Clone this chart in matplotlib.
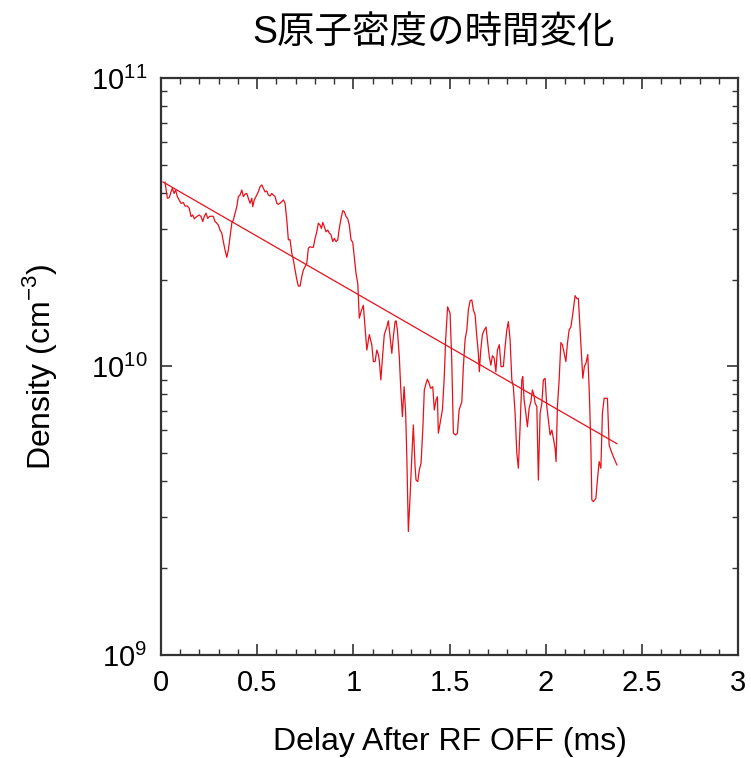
import numpy as np
import matplotlib
matplotlib.use("Agg")
import matplotlib.pyplot as plt
from matplotlib.ticker import LogLocator, MultipleLocator, NullFormatter

plt.rcParams['font.family'] = ['Liberation Sans', 'Noto Sans CJK JP', 'DejaVu Sans']
plt.rcParams['mathtext.fontset'] = 'custom'
plt.rcParams['mathtext.rm'] = 'Liberation Sans'

# measured S atom density after RF off (time in ms, density in 1e10 cm^-3)
time_ms = [
    0.021, 0.033, 0.043, 0.052, 0.059, 0.068, 0.076, 0.085, 0.094, 0.104,
    0.116, 0.125, 0.137, 0.147, 0.156, 0.165, 0.173, 0.186, 0.199, 0.208,
    0.217, 0.225, 0.234, 0.243, 0.251, 0.264, 0.272, 0.281, 0.290, 0.298,
    0.307, 0.316, 0.324, 0.333, 0.342, 0.350, 0.359, 0.368, 0.376, 0.385,
    0.394, 0.402, 0.411, 0.420, 0.428, 0.437, 0.446, 0.454, 0.463, 0.472,
    0.477, 0.485, 0.498, 0.506, 0.515, 0.524, 0.532, 0.541, 0.550, 0.558,
    0.567, 0.576, 0.584, 0.593, 0.602, 0.610, 0.619, 0.628, 0.636, 0.645,
    0.654, 0.662, 0.671, 0.680, 0.688, 0.697, 0.706, 0.714, 0.723, 0.732,
    0.740, 0.749, 0.758, 0.766, 0.775, 0.784, 0.792, 0.801, 0.810, 0.818,
    0.827, 0.834, 0.841, 0.849, 0.858, 0.867, 0.875, 0.884, 0.893, 0.901,
    0.910, 0.919, 0.927, 0.936, 0.945, 0.953, 0.962, 0.971, 0.979, 0.988,
    0.997, 1.005, 1.014, 1.023, 1.026, 1.031, 1.040, 1.052, 1.061, 1.070,
    1.083, 1.096, 1.104, 1.113, 1.122, 1.130, 1.135, 1.143, 1.153, 1.161,
    1.174, 1.182, 1.191, 1.200, 1.208, 1.217, 1.222, 1.229, 1.239, 1.246,
    1.255, 1.264, 1.272, 1.278, 1.286, 1.295, 1.304, 1.312, 1.321, 1.326,
    1.335, 1.343, 1.352, 1.361, 1.369, 1.378, 1.385, 1.394, 1.402, 1.413,
    1.421, 1.430, 1.437, 1.442, 1.451, 1.463, 1.472, 1.480, 1.490, 1.503,
    1.512, 1.520, 1.532, 1.541, 1.550, 1.564, 1.572, 1.581, 1.590, 1.598,
    1.607, 1.616, 1.624, 1.633, 1.642, 1.650, 1.655, 1.662, 1.671, 1.681,
    1.690, 1.699, 1.707, 1.715, 1.723, 1.732, 1.741, 1.749, 1.759, 1.768,
    1.780, 1.789, 1.798, 1.806, 1.815, 1.824, 1.832, 1.841, 1.850, 1.858,
    1.867, 1.876, 1.881, 1.888, 1.897, 1.905, 1.914, 1.923, 1.931, 1.939,
    1.945, 1.954, 1.962, 1.971, 1.980, 1.988, 1.997, 2.006, 2.014, 2.023,
    2.032, 2.040, 2.049, 2.054, 2.061, 2.070, 2.079, 2.087, 2.096, 2.105,
    2.113, 2.122, 2.131, 2.139, 2.148, 2.153, 2.162, 2.170, 2.179, 2.188,
    2.193, 2.201, 2.210, 2.219, 2.227, 2.235, 2.240, 2.248, 2.261, 2.269,
    2.278, 2.287, 2.295, 2.304, 2.313, 2.321, 2.330, 2.338, 2.352, 2.370,
]
density_e10 = [
    4.35, 3.83, 3.85, 4.03, 4.15, 3.98, 4.09, 3.88, 3.78, 3.68,
    3.70, 3.60, 3.60, 3.53, 3.31, 3.35, 3.25, 3.31, 3.35, 3.31,
    3.18, 3.31, 3.40, 3.26, 3.31, 3.32, 3.31, 3.18, 3.14, 3.09,
    2.97, 2.90, 2.71, 2.53, 2.39, 2.53, 2.82, 3.14, 3.22, 3.40,
    3.58, 3.88, 3.93, 4.09, 3.88, 3.96, 3.98, 3.83, 3.68, 3.83,
    3.58, 3.78, 3.93, 4.03, 4.20, 4.26, 4.15, 4.03, 4.06, 3.93,
    3.90, 3.98, 3.93, 3.88, 3.68, 3.65, 3.68, 3.73, 3.78, 3.68,
    3.22, 2.75, 2.75, 2.47, 2.34, 2.16, 2.00, 1.90, 1.90, 2.05,
    2.16, 2.22, 2.28, 2.57, 2.60, 2.59, 2.59, 2.78, 2.93, 3.14,
    3.09, 3.01, 3.16, 3.05, 2.93, 2.97, 2.90, 2.86, 2.71, 2.78,
    2.71, 2.75, 3.01, 3.26, 3.47, 3.44, 3.31, 3.25, 3.09, 2.75,
    2.69, 2.40, 2.10, 1.94, 1.75, 1.47, 1.55, 1.63, 1.37, 1.14,
    1.29, 1.19, 1.04, 1.04, 1.14, 1.10, 1.05, 0.898, 1.11, 1.29,
    1.37, 1.44, 1.27, 1.11, 1.27, 1.43, 1.44, 1.34, 1.08, 0.851,
    0.670, 0.851, 0.688, 0.487, 0.268, 0.354, 0.487, 0.627, 0.449, 0.404,
    0.399, 0.438, 0.462, 0.602, 0.829, 0.874, 0.903, 0.874, 0.840, 0.851,
    0.707, 0.765, 0.786, 0.587, 0.635, 0.707, 0.898, 1.24, 1.61, 1.53,
    1.03, 0.587, 0.579, 0.587, 0.707, 0.755, 0.998, 1.24, 1.34, 1.57,
    1.69, 1.70, 1.57, 1.51, 1.27, 1.11, 0.959, 1.13, 1.29, 1.34,
    1.37, 1.20, 1.08, 1.01, 1.09, 1.07, 0.959, 1.14, 1.19, 0.998,
    1.00, 1.17, 1.34, 1.43, 1.24, 0.898, 0.851, 0.688, 0.500, 0.444,
    0.618, 0.898, 0.922, 0.765, 0.688, 0.618, 0.716, 0.755, 0.829, 0.796,
    0.746, 0.726, 0.404, 0.688, 0.746, 0.898, 0.910, 0.726, 0.653, 0.579,
    0.602, 0.564, 0.520, 0.468, 0.726, 0.898, 1.21, 1.19, 1.11, 1.04,
    1.20, 1.34, 1.37, 1.49, 1.66, 1.76, 1.72, 1.72, 1.34, 1.03,
    0.910, 0.998, 1.03, 1.10, 0.807, 0.527, 0.345, 0.340, 0.349, 0.404,
    0.468, 0.444, 0.688, 0.776, 0.776, 0.776, 0.534, 0.514, 0.487, 0.456,
]

# exponential fit  n = n0 * exp(-t / tau)
fit_n0 = 4.4e10
fit_tau = 1.13
fit_t = [0.01, 2.37]

t = np.array(time_ms)
n = np.array(density_e10) * 1e10
t_fit = np.linspace(fit_t[0], fit_t[1], 50)
n_fit = fit_n0 * np.exp(-t_fit / fit_tau)

fig = plt.figure(figsize=(7.51, 7.58), dpi=100)
ax = fig.add_axes([0.2144, 0.1359, 0.7683, 0.7612])

red = '#e8101a'
ax.plot(t, n, color=red, lw=0.9)
ax.plot(t_fit, n_fit, color=red, lw=0.9)

ax.set_yscale('log')
ax.set_xlim(0, 3)
ax.set_ylim(1e9, 1e11)
ax.xaxis.set_major_locator(MultipleLocator(0.5))
ax.xaxis.set_minor_locator(MultipleLocator(0.1))
ax.xaxis.set_major_formatter(plt.FuncFormatter(lambda v, p: f"{v:g}"))
ax.yaxis.set_major_locator(LogLocator(base=10, numticks=5))
ax.yaxis.set_minor_locator(LogLocator(base=10, subs=np.arange(2, 10), numticks=20))
ax.yaxis.set_minor_formatter(NullFormatter())

for s in ax.spines.values():
    s.set_color('#333333')
    s.set_linewidth(1.6)
ax.tick_params(which='both', direction='in', top=True, right=True,
               colors='#333333', labelcolor='black', labelsize=21)
ax.tick_params(which='major', length=8, width=1.2, pad=10)
ax.tick_params(which='minor', length=4.5, width=1.0)

ax.set_xlabel('Delay After RF OFF (ms)', fontsize=23, labelpad=22)
ax.set_ylabel('Density (cm$^{-3}$)', fontsize=23, labelpad=23)
fig.text(0.578, 0.956, 'S原子密度の時間変化', fontsize=27, ha='center', va='center',
         family=['Liberation Sans', 'Noto Sans CJK JP'])

fig.savefig('out.png', dpi=100)
